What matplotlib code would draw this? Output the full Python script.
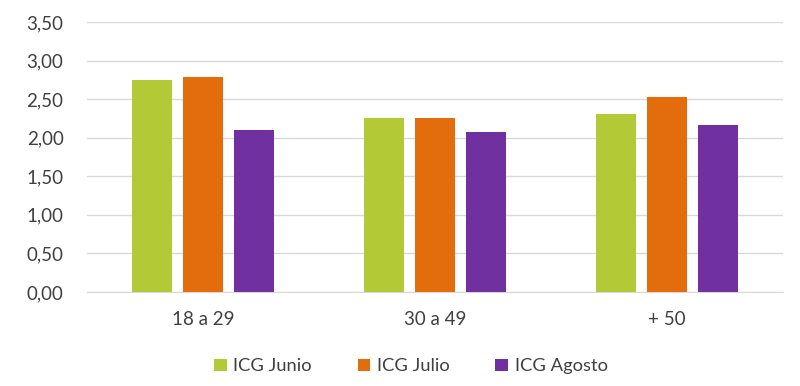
import matplotlib.pyplot as plt
import numpy as np

categories = ['18 a 29', '30 a 49', '+ 50']
icg_junio = [2.75, 2.25, 2.31]
icg_julio = [2.79, 2.25, 2.53]
icg_agosto = [2.10, 2.08, 2.16]
series_names = ['ICG Junio', 'ICG Julio', 'ICG Agosto']
colors = ['#B3C935', '#E36C0C', '#7030A0']
yticks = [0, 0.5, 1.0, 1.5, 2.0, 2.5, 3.0, 3.5]

plt.rcParams['font.family'] = ['Lato', 'DejaVu Sans']

fig = plt.figure(figsize=(8, 3.86), dpi=100)
ax = fig.add_axes([0.109, 0.2435, 0.87, 0.6995])

x = np.arange(len(categories))
width = 0.172
offsets = [-0.22, 0, 0.22]
for vals, name, c, off in zip([icg_junio, icg_julio, icg_agosto], series_names, colors, offsets):
    ax.bar(x + off, vals, width, color=c, label=name, zorder=3)

ax.set_xlim(-0.5, len(categories) - 0.5)
ax.set_ylim(0, 3.5)
ax.set_yticks(yticks)
ax.set_yticklabels([f'{v:.2f}'.replace('.', ',') for v in yticks])
ax.set_xticks(x)
ax.set_xticklabels(categories)
ax.grid(axis='y', color='#d9d9d9', linewidth=1, zorder=0)
for s in ['top', 'right', 'left']:
    ax.spines[s].set_visible(False)
ax.spines['bottom'].set_color('#d9d9d9')
ax.tick_params(axis='both', length=0, labelsize=13.5, colors='#404040')
ax.tick_params(axis='x', pad=14)
ax.tick_params(axis='y', pad=17)

ax.legend(loc='upper center', bbox_to_anchor=(0.465, -0.185), ncol=3, frameon=False,
          fontsize=13.2, handlelength=0.7, handleheight=0.7, handletextpad=0.35,
          columnspacing=2.5, labelcolor='#404040')

fig.savefig('out.png', dpi=100)
